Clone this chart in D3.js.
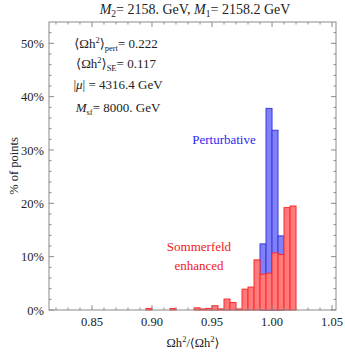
<!DOCTYPE html>
<html>
<head>
<meta charset="utf-8">
<script src="https://cdn.jsdelivr.net/npm/d3@7"></script>
<style>
  body { margin: 0; background: #fff; }
  svg { display: block; }
  text { font-family: "Liberation Serif", "DejaVu Serif", serif; fill: #222; }
</style>
</head>
<body>
<div id="chart"></div>
<script>
// bin starts (width 0.005) and % of points per bin
var binWidth = 0.005;
var redBins = [0.895, 0.915, 0.935, 0.940, 0.945, 0.950, 0.955, 0.960, 0.965, 0.970,
               0.975, 0.980, 0.985, 0.990, 0.995, 1.000, 1.005, 1.010, 1.015];
var redPct  = [0.3, 0.3, 0.4, 0.2, 0.3, 0.8, 0.2, 2.05, 1.4, 0.2,
               3.9, 4.3, 9.4, 6.7, 6.9, 10.7, 10.4, 19.2, 19.5];
var blueBins = [0.990, 0.995, 1.000, 1.005];
var bluePct  = [12.4, 37.8, 33.7, 13.9];

var xTicks = [0.85, 0.90, 0.95, 1.00, 1.05];
var yTicks = [0, 10, 20, 30, 40, 50];

var width = 345, height = 352;
var margin = { top: 22, right: 9, bottom: 42, left: 49 };

var svg = d3.select("#chart").append("svg")
    .attr("width", width)
    .attr("height", height);

var x = d3.scaleLinear().domain([0.8142, 1.0533]).range([margin.left, width - margin.right]);
var y = d3.scaleLinear().domain([0, 54]).range([height - margin.bottom, margin.top]);

var red = redBins.map(function(b, i) { return { x0: b, v: redPct[i] }; });
var blue = blueBins.map(function(b, i) { return { x0: b, v: bluePct[i] }; });

// blue first, red drawn on top
svg.append("g").selectAll("rect")
    .data(blue).enter().append("rect")
    .attr("x", function(d) { return x(d.x0); })
    .attr("width", function(d) { return x(d.x0 + binWidth) - x(d.x0); })
    .attr("y", function(d) { return y(d.v); })
    .attr("height", function(d) { return y(0) - y(d.v); })
    .style("fill", "#8080fb")
    .style("stroke", "#3a3ad6")
    .style("stroke-width", 1);

svg.append("g").selectAll("rect")
    .data(red).enter().append("rect")
    .attr("x", function(d) { return x(d.x0); })
    .attr("width", function(d) { return x(d.x0 + binWidth) - x(d.x0); })
    .attr("y", function(d) { return y(d.v); })
    .attr("height", function(d) { return y(0) - y(d.v); })
    .style("fill", "#ff7a7a")
    .style("stroke", "#ff2a2a")
    .style("stroke-width", 1);

// frame
svg.append("rect")
    .attr("x", margin.left).attr("y", margin.top)
    .attr("width", width - margin.left - margin.right)
    .attr("height", height - margin.top - margin.bottom)
    .style("fill", "none").style("stroke", "#8a8a8a").style("stroke-width", 1);

// x ticks (bottom + top, inward)
var xMinor = d3.range(82, 106).map(function(k) { return k / 100; });
var tickColor = "#8a8a8a";
xMinor.forEach(function(v) {
    var major = xTicks.some(function(t) { return Math.abs(t - v) < 1e-6; });
    var len = major ? 5 : 2.5;
    svg.append("line").attr("x1", x(v)).attr("x2", x(v))
        .attr("y1", y(0)).attr("y2", y(0) - len).style("stroke", tickColor);
    svg.append("line").attr("x1", x(v)).attr("x2", x(v))
        .attr("y1", margin.top).attr("y2", margin.top + len).style("stroke", tickColor);
});
xTicks.forEach(function(v) {
    svg.append("text").attr("x", x(v)).attr("y", y(0) + 16)
        .attr("text-anchor", "middle").style("font-size", "12.5px")
        .text(v.toFixed(2));
});

// y ticks (left + right, inward)
d3.range(0, 54, 2).forEach(function(v) {
    var major = v % 10 === 0;
    var len = major ? 5 : 2.5;
    svg.append("line").attr("x1", margin.left).attr("x2", margin.left + len)
        .attr("y1", y(v)).attr("y2", y(v)).style("stroke", tickColor);
    svg.append("line").attr("x1", width - margin.right).attr("x2", width - margin.right - len)
        .attr("y1", y(v)).attr("y2", y(v)).style("stroke", tickColor);
});
yTicks.forEach(function(v) {
    svg.append("text").attr("x", margin.left - 5).attr("y", y(v) + 4.5)
        .attr("text-anchor", "end").style("font-size", "12.5px")
        .text(v + "%");
});

// axis titles
svg.append("text")
    .attr("transform", "translate(18," + ((margin.top + height - margin.bottom) / 2) + ") rotate(-90)")
    .attr("text-anchor", "middle").style("font-size", "12.5px")
    .text("% of points");

var xt = svg.append("text").attr("x", 193).attr("y", 347)
    .attr("text-anchor", "middle").style("font-size", "12.5px");
xt.append("tspan").text("\u03A9h");
xt.append("tspan").attr("dy", -5).style("font-size", "8.5px").text("2");
xt.append("tspan").attr("dy", 5).text("/\u27E8\u03A9h");
xt.append("tspan").attr("dy", -5).style("font-size", "8.5px").text("2");
xt.append("tspan").attr("dy", 5).text("\u27E9");

// title
var tt = svg.append("text").attr("x", 195).attr("y", 14)
    .attr("text-anchor", "middle").style("font-size", "14px");
tt.append("tspan").style("font-style", "italic").text("M");
tt.append("tspan").attr("dy", 3).style("font-size", "9.5px").text("2");
tt.append("tspan").attr("dy", -3).text("= 2158. GeV, ");
tt.append("tspan").style("font-style", "italic").text("M");
tt.append("tspan").attr("dy", 3).style("font-size", "9.5px").text("1");
tt.append("tspan").attr("dy", -3).text("= 2158.2 GeV");

// info block
function omegaLine(yy, sub, val) {
    var t = svg.append("text").attr("x", 116).attr("y", yy)
        .attr("text-anchor", "middle").style("font-size", "13px");
    t.append("tspan").text("\u27E8\u03A9h");
    t.append("tspan").attr("dy", -5).style("font-size", "8.5px").text("2");
    t.append("tspan").attr("dy", 5).text("\u27E9");
    t.append("tspan").attr("dy", 3).style("font-size", "8.5px").text(sub);
    t.append("tspan").attr("dy", -3).text("= " + val);
}
omegaLine(48, "pert", "0.222");
omegaLine(68, "SE", "0.117");

var mu = svg.append("text").attr("x", 118).attr("y", 89)
    .attr("text-anchor", "middle").style("font-size", "13px");
mu.append("tspan").text("|");
mu.append("tspan").style("font-style", "italic").text("\u03BC");
mu.append("tspan").text("| = 4316.4 GeV");

var msf = svg.append("text").attr("x", 118).attr("y", 112)
    .attr("text-anchor", "middle").style("font-size", "13px");
msf.append("tspan").style("font-style", "italic").text("M");
msf.append("tspan").attr("dy", 3).style("font-size", "8.5px").text("sf");
msf.append("tspan").attr("dy", -3).text("= 8000. GeV");

// series labels
svg.append("text").attr("x", 224).attr("y", 144)
    .attr("text-anchor", "middle").style("font-size", "13px").style("fill", "#2a2aee")
    .text("Perturbative");
svg.append("text").attr("x", 199).attr("y", 251)
    .attr("text-anchor", "middle").style("font-size", "13px").style("fill", "#ee1a1a")
    .text("Sommerfeld");
svg.append("text").attr("x", 199).attr("y", 270)
    .attr("text-anchor", "middle").style("font-size", "13px").style("fill", "#ee1a1a")
    .text("enhanced");
</script>
</body>
</html>
